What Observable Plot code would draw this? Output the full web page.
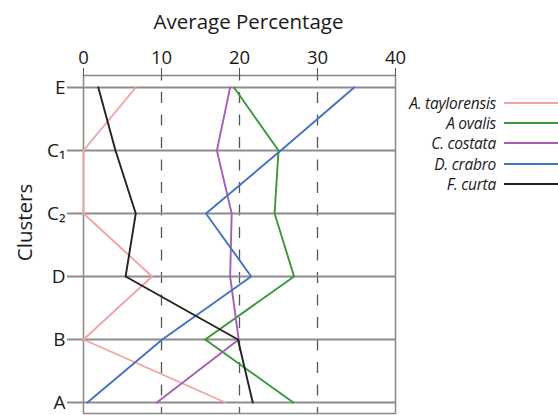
<!DOCTYPE html>
<html><head><meta charset="utf-8">
<script src="https://cdn.jsdelivr.net/npm/d3@7"></script>
<script src="https://cdn.jsdelivr.net/npm/@observablehq/plot@0.6"></script>
<style>
body{margin:0;background:#fff;font-family:"Open Sans",sans-serif;}
#wrap{position:relative;width:558px;height:415px;overflow:hidden;}
#legend{position:absolute;left:380px;top:93px;}
.row{display:flex;align-items:center;height:20.2px;}
.lab{width:116px;text-align:right;font-style:italic;font-size:15.5px;color:#1a1a1a;letter-spacing:-0.25px;white-space:nowrap;}
.sw{width:60px;height:2px;margin-left:8px;flex:none;}
</style></head><body><div id="wrap"></div>
<script>
const clusters = ["E", "C\u2081", "C\u2082", "D", "B", "A"];
const taylorensis = [6.7, 0, 0, 8.8, 0, 18.2];
const ovalis = [19.3, 25.0, 24.5, 27.0, 15.6, 26.9];
const costata = [18.8, 17.1, 19.0, 18.8, 19.9, 9.4];
const crabro = [34.7, 25.3, 15.7, 21.5, 10.1, 0.5];
const curta = [1.9, 4.1, 6.7, 5.4, 19.8, 21.7];
const species = ["A. taylorensis", "A ovalis", "C. costata", "D. crabro", "F. curta"];
const colors = ["#f4a3a3", "#3a983a", "#a65fb6", "#4472c4", "#222222"];
const seriesValues = [taylorensis, ovalis, costata, crabro, curta];
const xTicks = [0, 10, 20, 30, 40];
const gridTicks = [10, 20, 30];

const rows = species.flatMap((s, i) => clusters.map((c, j) => ({species: s, cluster: c, value: seriesValues[i][j]})));

const chart = Plot.plot({
  width: 558, height: 415,
  marginTop: 75, marginBottom: 2, marginLeft: 83, marginRight: 163,
  style: {fontFamily: '"Open Sans", sans-serif', background: "transparent", color: "#1a1a1a"},
  x: {domain: [0, 40]},
  y: {type: "point", domain: clusters, padding: 0.15},
  color: {domain: species, range: colors},
  marks: [
    Plot.ruleX(gridTicks, {stroke: "#555", strokeWidth: 1.3, strokeDasharray: "11,11.5", strokeDashoffset: 5.5}),
    Plot.ruleY(clusters, {stroke: "#8c8c8c", strokeWidth: 2}),
    Plot.frame({stroke: "#888", strokeWidth: 1.5}),
    Plot.axisX(xTicks, {anchor: "top", tickSize: 8, tickPadding: 4, fontSize: 18.5, stroke: "#555", label: null}),
    Plot.axisY({anchor: "left", tickSize: 16, tickPadding: 2, fontSize: 19, stroke: "#8c8c8c", strokeWidth: 2, label: null}),
    Plot.text(["Average Percentage"], {frameAnchor: "top", lineAnchor: "middle", textAnchor: "middle", dx: 9, dy: -53, fontSize: 20.5}),
    Plot.text(["Clusters"], {frameAnchor: "left", lineAnchor: "middle", textAnchor: "middle", rotate: -90, dx: -58, dy: -22, fontSize: 20.5}),
    Plot.line(rows, {x: "value", y: "cluster", stroke: "species", strokeWidth: 1.9})
  ]
});
const wrap = document.getElementById("wrap");
wrap.appendChild(chart);
const legend = document.createElement("div");
legend.id = "legend";
species.forEach((s, i) => {
  const r = document.createElement("div"); r.className = "row";
  const l = document.createElement("span"); l.className = "lab"; l.textContent = s;
  const w = document.createElement("span"); w.className = "sw"; w.style.background = colors[i];
  r.appendChild(l); r.appendChild(w); legend.appendChild(r);
});
wrap.appendChild(legend);
</script></body></html>
